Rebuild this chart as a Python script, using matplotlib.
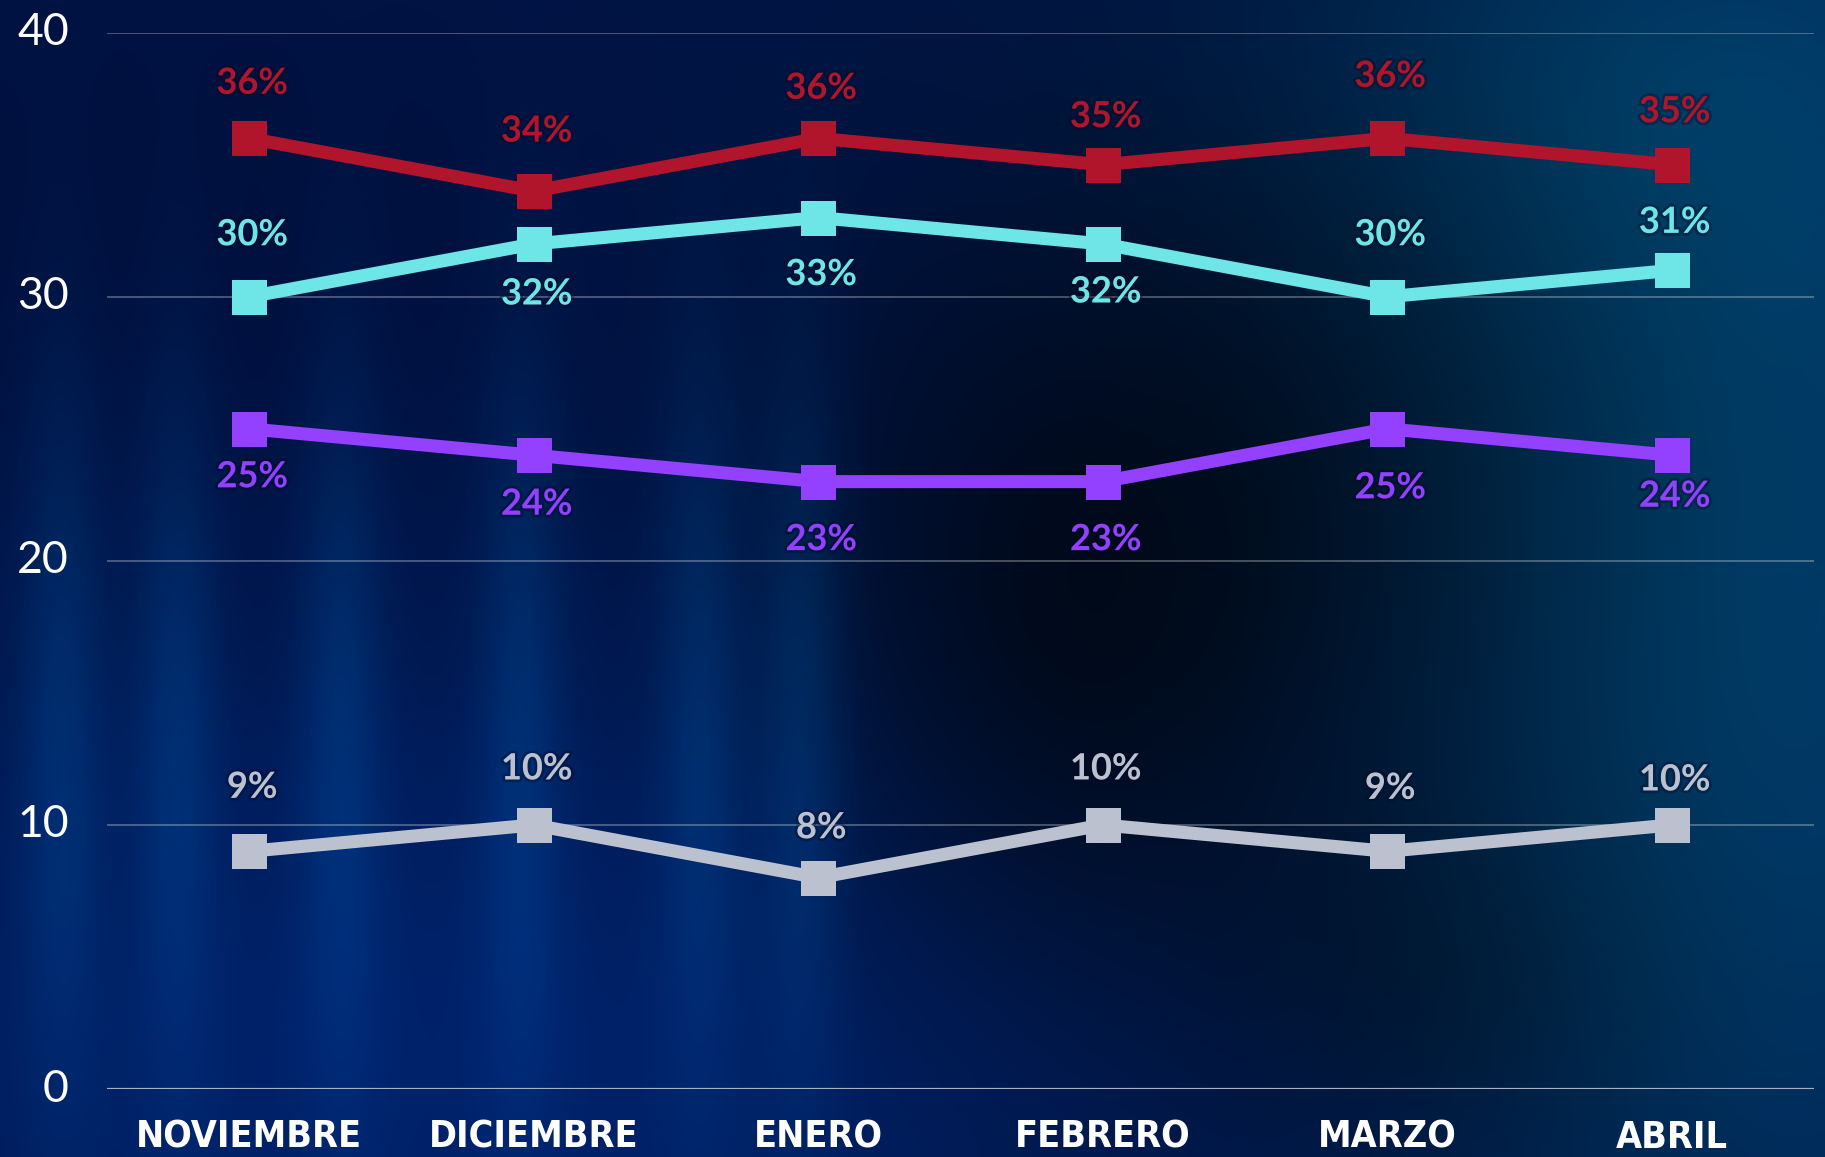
import numpy as np
import matplotlib
matplotlib.use("Agg")
import matplotlib.pyplot as plt
import matplotlib.patheffects as pe
from matplotlib.transforms import blended_transform_factory

# ---- data ----
months = ["NOVIEMBRE", "DICIEMBRE", "ENERO", "FEBRERO", "MARZO", "ABRIL"]
rojo = [36, 34, 36, 35, 36, 35]
cian = [30, 32, 33, 32, 30, 31]
morado = [25, 24, 23, 23, 25, 24]
gris = [9, 10, 8, 10, 9, 10]
y_ticks = [0, 10, 20, 30, 40]

# ---- style ----
series = [
    (rojo, "#B0152B", [-55, -60, -50, -48, -62, -53]),
    (cian, "#6EE6E8", [-62, 50, 57, 48, -62, -48]),
    (morado, "#9340FF", [48, 49, 58, 58, 59, 41]),
    (gris, "#BCC1D0", [-64, -56, -50, -56, -63, -45]),
]

W, H = 1825, 1157
fig = plt.figure(figsize=(W / 100, H / 100), dpi=100)

# ---- background (blurred dark-blue photo approximation) ----
yy, xx = np.mgrid[0:H:4, 0:W:4].astype(float)
img = np.zeros(xx.shape + (3,))
img[..., 0] = 0
img[..., 1] = 22
img[..., 2] = 72

def blob(cx, cy, sx, sy, col):
    g = np.exp(-(((xx - cx) / sx) ** 2 + ((yy - cy) / sy) ** 2) / 2)
    for i in range(3):
        img[..., i] += col[i] * g

blob(450, 1080, 500, 300, (0, 12, 35))
blob(1780, 600, 250, 550, (0, 38, 35))
blob(1620, 80, 300, 180, (0, 18, 15))
blob(1250, 500, 300, 330, (0, -11, -38))
blob(1050, 700, 160, 220, (0, -6, -22))
blob(1450, 1000, 180, 130, (0, -6, -22))
for sx_c in [60, 175, 340, 520, 700, 800]:
    blob(sx_c, 720, 30, 260, (0, 20, 28))
blob(180, 250, 350, 250, (0, -6, -10))
img = np.clip(img, 0, 255) / 255.0

bg = fig.add_axes([0, 0, 1, 1], zorder=-10)
bg.imshow(img, extent=[0, 1, 0, 1], aspect="auto", interpolation="bicubic")
bg.axis("off")

# ---- main axes ----
left, right = 107 / W, 1814 / W
bottom, top = (H - 1089) / H, (H - 32.7) / H
ax = fig.add_axes([left, bottom, right - left, top - bottom])
ax.patch.set_alpha(0)
ax.set_xlim(-0.5, len(months) - 0.5)
ax.set_ylim(0, 40)
for s in ax.spines.values():
    s.set_visible(False)
ax.set_xticks([])
ax.set_yticks([])

for t in y_ticks:
    if t == 0:
        ax.axhline(t, color="#A9B0C2", lw=1.6, zorder=1)
    else:
        ax.axhline(t, color="#FFFFFF", alpha=0.3, lw=1.3, zorder=1)

ytrans = ax.get_yaxis_transform()
for t in y_ticks:
    ax.text((69 - 107) / 1707, t, str(t), transform=ytrans, ha="right", va="center",
            fontsize=32, color="white", family="Lato", fontweight="normal")

xpos = np.arange(len(months))
xtrans = blended_transform_factory(ax.transData, fig.transFigure)
for x, m in zip(xpos, months):
    ax.text(x, (H - 1156) / H, m, transform=xtrans, ha="center", va="bottom",
            fontsize=27, color="white", family="DejaVu Sans", fontstretch="condensed",
            fontweight="bold")

shadow = [pe.withStroke(linewidth=4, foreground="#000A25", alpha=0.35)]
for vals, col, offs in series:
    ax.plot(xpos, vals, color=col, lw=9.4, marker="s", markersize=25.2,
            markeredgewidth=0, zorder=3, solid_joinstyle="miter")
    for x, v, o in zip(xpos, vals, offs):
        ax.annotate(f"{v}%", (x, v), xytext=(3, -o), textcoords="offset pixels",
                    ha="center", va="center", fontsize=26, fontweight="bold",
                    family="Lato", color=col, zorder=4, path_effects=shadow)

fig.savefig("out.png", dpi=100)
